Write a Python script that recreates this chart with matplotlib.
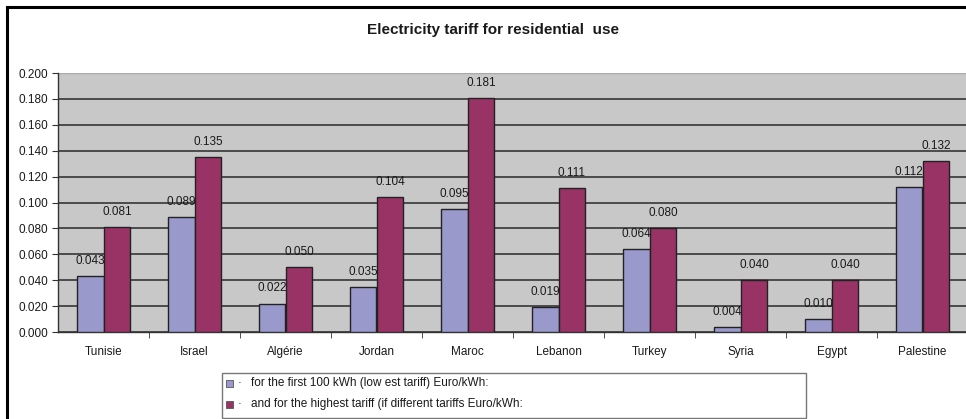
import matplotlib
matplotlib.use("Agg")
import matplotlib.pyplot as plt
from matplotlib.patches import Rectangle
from matplotlib.lines import Line2D
import numpy as np

plt.rcParams['font.family'] = ['Liberation Sans', 'DejaVu Sans']

categories = ["Tunisie", "Israel", "Algérie", "Jordan", "Maroc", "Lebanon",
              "Turkey", "Syria", "Egypt", "Palestine"]
low_tariff = [0.043, 0.089, 0.022, 0.035, 0.095, 0.019, 0.064, 0.004, 0.010, 0.112]
high_tariff = [0.081, 0.135, 0.050, 0.104, 0.181, 0.111, 0.080, 0.040, 0.040, 0.132]
series_names = ["for the first 100 kWh (low est tariff) Euro/kWh:",
                "and for the highest tariff (if different tariffs Euro/kWh:"]
title = "Electricity tariff for residential  use"
yticks = [0.0, 0.02, 0.04, 0.06, 0.08, 0.10, 0.12, 0.14, 0.16, 0.18, 0.20]

c_low = "#9999cc"
c_high = "#993366"
edge = "#222222"
txt = "#1a1a1a"

W, H = 966, 419
fig = plt.figure(figsize=(W/100, H/100), dpi=100)

# outer chart border (top and left visible; cropped on right/bottom)
fig.add_artist(Line2D([7/W, 1.0], [1-7/H, 1-7/H], color="black", lw=2.2, transform=fig.transFigure))
fig.add_artist(Line2D([7/W, 7/W], [0, 1-7/H], color="black", lw=2.2, transform=fig.transFigure))

left, right, top, bottom = 58, 968, 73, 332
ax = fig.add_axes([left/W, 1-bottom/H, (right-left)/W, (bottom-top)/H])
ax.set_facecolor("#c8c8c8")

x = np.arange(len(categories))
bw = 0.295
b1 = ax.bar(x - bw/2, low_tariff, bw, color=c_low, edgecolor=edge, linewidth=1.0, zorder=3)
b2 = ax.bar(x + bw/2, high_tariff, bw, color=c_high, edgecolor=edge, linewidth=1.0, zorder=3)

for bars, vals in ((b1, low_tariff), (b2, high_tariff)):
    for rect, v in zip(bars, vals):
        ax.annotate(f"{v:.3f}", (rect.get_x() + rect.get_width()/2, v), xytext=(0, 6.5),
                    textcoords="offset points", ha="center", va="bottom", fontsize=8.5,
                    color=txt, zorder=5)

ax.set_xlim(-0.5, len(categories) - 0.5)
ax.set_ylim(0, 0.2)
ax.set_yticks(yticks)
ax.set_yticklabels([f"{t:.3f}" for t in yticks], fontsize=8.5, color=txt)
ax.yaxis.grid(True, color="#2a2a2a", linewidth=1.1, zorder=1)
ax.set_axisbelow(True)

ax.set_xticks(x)
ax.set_xticklabels(categories, fontsize=8.5, color=txt)
ax.tick_params(axis="x", length=0, pad=10)
ax.set_xticks(np.arange(0.5, len(categories) - 0.5, 1), minor=True)
ax.tick_params(axis="x", which="minor", length=4, direction="out", color="#333333")
ax.tick_params(axis="y", length=4, direction="out", color="#333333", pad=3)

for s in ["top", "right"]:
    ax.spines[s].set_visible(False)
ax.spines["left"].set_color("#333333")
ax.spines["bottom"].set_color("#333333")
ax.spines["left"].set_linewidth(1.0)
ax.spines["bottom"].set_linewidth(1.0)
ax.axhline(0.2, color="#aaaaaa", lw=1.0, zorder=2)

fig.text(493/W, 1-30/H, title, ha="center", va="center", fontsize=11, fontweight="bold", color=txt)

# legend box
lx0, lx1, ly0, ly1 = 222, 806, 373, 418
fig.add_artist(Rectangle((lx0/W, 1-ly1/H), (lx1-lx0)/W, (ly1-ly0)/H, transform=fig.transFigure,
                         facecolor="white", edgecolor="#777777", lw=1.0))
for i, (name, c) in enumerate(zip(series_names, [c_low, c_high])):
    yc = 383 + i * 21
    fig.add_artist(Rectangle((226/W, 1-(yc+3.5)/H), 7/W, 7/H, transform=fig.transFigure,
                             facecolor=c, edgecolor="#555555", lw=0.6))
    fig.text(238/W, 1-yc/H, "·", ha="left", va="center", fontsize=8.5, color=txt)
    fig.text(251/W, 1-yc/H, name, ha="left", va="center", fontsize=8.5, color=txt)

fig.savefig("out.png", dpi=100)
